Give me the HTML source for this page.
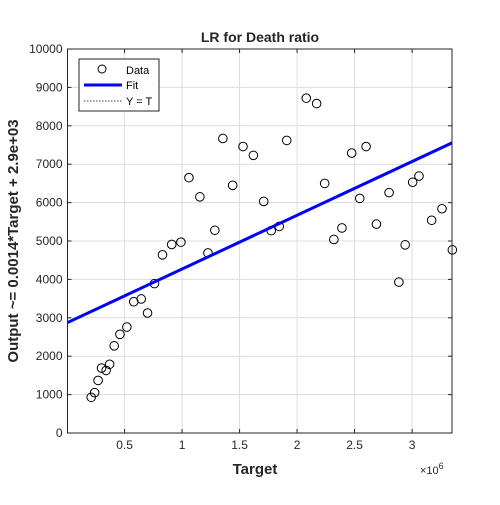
<!DOCTYPE html>
<html><head><meta charset="utf-8"><style>
body{margin:0;background:#fff;width:500px;height:500px;overflow:hidden}
svg text{font-family:"Liberation Sans",Arial,sans-serif}
</style></head><body>
<svg id="chart" width="500" height="500">
<rect width="500" height="500" fill="#fff"/>
<g id="grid"></g>
<g id="pts"></g>
<g id="fit"></g>
<rect x="67.5" y="49" width="384.5" height="384" fill="none" stroke="#262626" stroke-width="1"/>
<g id="ticks"></g>
<text x="260" y="42" text-anchor="middle" font-size="14" font-weight="bold" fill="#262626">LR  for Death ratio</text>
<text x="255" y="474" text-anchor="middle" font-size="15" font-weight="bold" fill="#262626">Target</text>
<text transform="translate(18,241) rotate(-90)" text-anchor="middle" font-size="15" font-weight="bold" fill="#262626">Output ~= 0.0014*Target + 2.9e+03</text>
<text x="420" y="474" font-size="11" fill="#262626">×10<tspan dy="-5" font-size="9">6</tspan></text>
<g>
<rect x="79" y="59" width="80" height="52" fill="#fff" stroke="#262626" stroke-width="1"/>
<circle cx="102" cy="69" r="4" fill="none" stroke="#000"/>
<text x="126" y="74" font-size="11" fill="#000">Data</text>
<line x1="84" y1="85" x2="122" y2="85" stroke="#0000ff" stroke-width="3"/>
<text x="126" y="89" font-size="11" fill="#000">Fit</text>
<line x1="84" y1="101" x2="122" y2="101" stroke="#000" stroke-width="0.8" stroke-dasharray="1.5,1.5"/>
<text x="126" y="105" font-size="11" fill="#000">Y = T</text>
</g>
</svg>
<script>
const xs=[0.21,0.24,0.27,0.30,0.34,0.37,0.41,0.46,0.52,0.58,0.645,0.70,0.76,0.83,0.91,0.99,1.06,1.155,1.225,1.285,1.355,1.44,1.53,1.62,1.71,1.775,1.845,1.91,2.08,2.17,2.24,2.32,2.39,2.475,2.545,2.60,2.69,2.80,2.885,2.94,3.005,3.06,3.17,3.26,3.35];
const ys=[930,1050,1370,1690,1630,1790,2270,2570,2760,3420,3490,3125,3890,4640,4910,4970,6650,6150,4690,5280,7670,6450,7460,7230,6030,5270,5380,7620,8720,8580,6500,5040,5340,7290,6110,7460,5440,6260,3930,4900,6530,6690,5540,5840,4770];
const fitCoef=[1400,2870];
const xTicks=[0.5,1,1.5,2,2.5,3];
const xTickLabels=["0.5","1","1.5","2","2.5","3"];
const yTicks=[0,1000,2000,3000,4000,5000,6000,7000,8000,9000,10000];
const xMin=0.004,xMax=3.347,yMin=0,yMax=10000;
const L=67.5,R=452,T=49,B=433;
const sx=v=>L+(v-xMin)/(xMax-xMin)*(R-L);
const sy=v=>B-(v-yMin)/(yMax-yMin)*(B-T);
const NS="http://www.w3.org/2000/svg";
function mk(tag,parent,attrs){const e=document.createElementNS(NS,tag);for(const k in attrs)e.setAttribute(k,attrs[k]);parent.appendChild(e);return e;}
const grid=document.getElementById('grid'),ticks=document.getElementById('ticks');
xTicks.forEach((t,i)=>{
 const g=mk('line',grid,{x1:sx(t),x2:sx(t),y1:T,y2:B,stroke:'#dcdcdc','stroke-width':1});
 
 
 const tk=mk('line',ticks,{x1:sx(t),x2:sx(t),y1:B,y2:B-4,stroke:'#262626'});
 
 
 const tk2=mk('line',ticks,{x1:sx(t),x2:sx(t),y1:T,y2:T+4,stroke:'#262626'});
 
 
 const tx=mk('text',ticks,{x:sx(t),y:B+16,'text-anchor':'middle','font-size':12,fill:'#262626'});
 tx.textContent=xTickLabels[i];
 
 
});
yTicks.forEach(t=>{
 if(t>yMin&&t<yMax){const g=mk('line',grid,{x1:L,x2:R,y1:sy(t),y2:sy(t),stroke:'#dcdcdc','stroke-width':1});
 
 }
 const tk=mk('line',ticks,{x1:L,x2:L+4,y1:sy(t),y2:sy(t),stroke:'#262626'});
 
 
 const tk2=mk('line',ticks,{x1:R,x2:R-4,y1:sy(t),y2:sy(t),stroke:'#262626'});
 
 
 const tx=mk('text',ticks,{x:L-5,y:sy(t)+4,'text-anchor':'end','font-size':12,fill:'#262626'});
 tx.textContent=String(t);
 
 
});
const pts=document.getElementById('pts');
xs.forEach((x,i)=>{
 const c=mk('circle',pts,{cx:sx(x),cy:sy(ys[i]),r:4.3,fill:'none',stroke:'#000','stroke-width':1});
 
 
});
const f=x=>fitCoef[0]*x+fitCoef[1];
const fl=mk('line',document.getElementById('fit'),{x1:sx(xMin),y1:sy(f(xMin)),x2:sx(xMax),y2:sy(f(xMax)),stroke:'#0000ff','stroke-width':3});


</script>
</body></html>
